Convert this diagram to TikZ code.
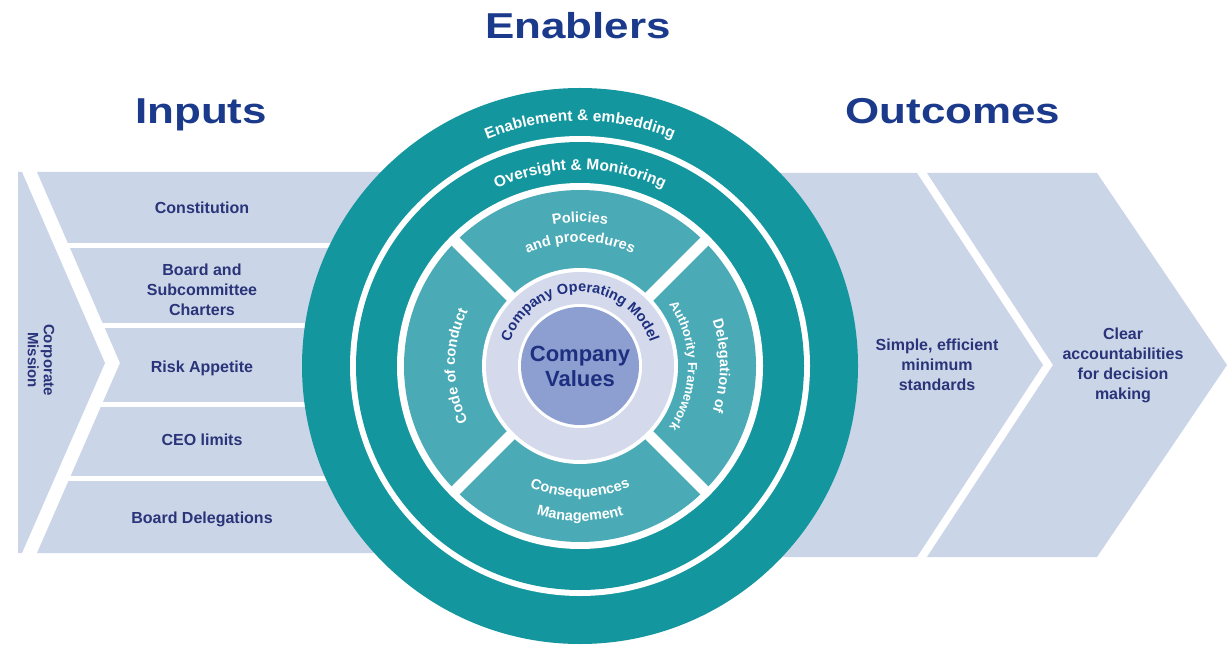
\documentclass[tikz,border=0pt]{standalone}
\usepackage{fontspec}
\setmainfont{Liberation Sans}
\newfontfamily\titlefont[FakeStretch=1.22]{Liberation Sans}
\usetikzlibrary{decorations.text}
\definecolor{tealA}{HTML}{14969E}
\definecolor{tealB}{HTML}{4AAAB6}
\definecolor{lav}{HTML}{D4DAEC}
\definecolor{core}{HTML}{8D9FD0}
\definecolor{chev}{HTML}{CBD5E8}
\definecolor{navy}{HTML}{2A3478}
\definecolor{titleblue}{HTML}{1B3A8C}
\definecolor{corenavy}{HTML}{1E2F80}
\newcommand\ringfont{\fontsize{15.5}{18}\selectfont\bfseries}
\newcommand\segfont{\fontsize{14.5}{17}\selectfont\bfseries}
\newcommand\smallsegfont{\fontsize{13}{16}\selectfont\bfseries}
\newcommand\copfont{\fontsize{14.5}{17}\selectfont\bfseries}
\begin{document}
\begin{tikzpicture}[x=1pt,y=1pt,
  title/.style={font=\titlefont\bfseries\fontsize{36}{40}\selectfont, text=titleblue, anchor=base, inner sep=0},
  lbl/.style={font=\bfseries\fontsize{16}{20}\selectfont, text=navy, align=center, inner sep=0},
  chevshape/.style={fill=chev, draw=none},
  gapbar/.style={fill=white, draw=none},
  arcbase/.style={decorate, decoration={text along path, text align=center}},
]
\useasboundingbox (0,0) rectangle (1231,646);
\fill[white] (0,0) rectangle (1231,646);
\coordinate (C) at (580,280);

% inputs area
\fill[chevshape] (37,474) -- (500,474) -- (500,93) -- (37,93) -- (120,283) -- cycle;
\fill[gapbar] (25,398) rectangle (500,403);
\fill[gapbar] (25,318) rectangle (500,323);
\fill[gapbar] (25,239) rectangle (500,244);
\fill[gapbar] (25,165) rectangle (500,170);
% corporate mission chevron
\fill[chevshape] (18,474) -- (22,474) -- (105,283) -- (22,93) -- (18,93) -- cycle;

% outcome chevrons
\fill[chevshape] (600,473) -- (917,473) -- (1043,281) -- (917,89) -- (600,89) -- cycle;
\fill[chevshape] (927,473) -- (1097,473) -- (1227,281) -- (1097,89) -- (927,89) -- (1053,281) -- cycle;

% central wheel
\fill[tealA] (C) circle[radius=278];
\fill[white] (C) circle[radius=230];
\fill[tealA] (C) circle[radius=224];
\fill[white] (C) circle[radius=183];
\fill[tealB] (C) circle[radius=176];
\foreach \a in {45,135,225,315}
  \draw[white, line width=11] (C) ++(\a:90) -- ++(\a:92);
\fill[white] (C) circle[radius=98];
\fill[lav] (C) circle[radius=94];
\fill[white] (C) circle[radius=62];
\fill[core] (C) circle[radius=59];

% titles
\node[title] (enablers) at (578,607) {Enablers};
\node[title] (inputs) at (201,522) {Inputs};
\node[title] (outcomes) at (953,522) {Outcomes};

% input labels
\node[lbl, font=\bfseries\fontsize{15}{16}\selectfont, rotate=-90] (mission) at (41,286) {Corporate\\Mission};
\node[lbl] (constitution) at (202,438) {Constitution};
\node[lbl] (charters) at (202,356) {Board and\\Subcommittee\\Charters};
\node[lbl] (risk) at (202,278) {Risk Appetite};
\node[lbl] (ceo) at (202,206) {CEO limits};
\node[lbl] (boarddel) at (202,127) {Board Delegations};

% outcome labels
\node[lbl] (simple) at (937,281) {Simple, efficient\\minimum\\standards};
\node[lbl] (clear) at (1123,281) {Clear\\accountabilities\\for decision\\making};

% core
\node[lbl, text=corenavy, font=\bfseries\fontsize{22}{25}\selectfont] (values) at (580,280) {Company\\Values};

% ring texts
\path[arcbase, decoration={text color=white, text={|\ringfont|Enablement {\&} embedding}}]
  (C) ++(150:245) arc[start angle=150, end angle=30, radius=245];
\path[arcbase, decoration={text color=white, text={|\ringfont|Oversight {\&} Monitoring}}]
  (C) ++(150:196) arc[start angle=150, end angle=30, radius=196];

% segment texts
\path[arcbase, decoration={text color=white, text={|\segfont|Policies}}]
  (C) ++(130:144) arc[start angle=130, end angle=50, radius=144];
\path[arcbase, decoration={text color=white, text={|\segfont|and procedures}}]
  (C) ++(140:124) arc[start angle=140, end angle=40, radius=124];
\path[arcbase, decoration={text color=white, text={|\segfont|Code of  conduct}}]
  (C) ++(230:125) arc[start angle=230, end angle=130, radius=125];
\path[arcbase, decoration={text color=white, text={|\segfont|Delegation of}}]
  (C) ++(45:140) arc[start angle=45, end angle=-45, radius=140];
\path[arcbase, decoration={text color=white, text={|\smallsegfont|Authority Framework}}]
  (C) ++(65:108) arc[start angle=65, end angle=-65, radius=108];
\path[arcbase, decoration={text color=white, text={|\segfont|Consequences}}]
  (C) ++(225:131) arc[start angle=225, end angle=315, radius=131];
\path[arcbase, decoration={text color=white, text={|\segfont|Management}}]
  (C) ++(230:155) arc[start angle=230, end angle=310, radius=155];

% operating model
\path[arcbase, decoration={text color=corenavy, text={|\copfont|Company Operating Model}}]
  (C) ++(178:74) arc[start angle=178, end angle=2, radius=74];
\end{tikzpicture}
\end{document}
